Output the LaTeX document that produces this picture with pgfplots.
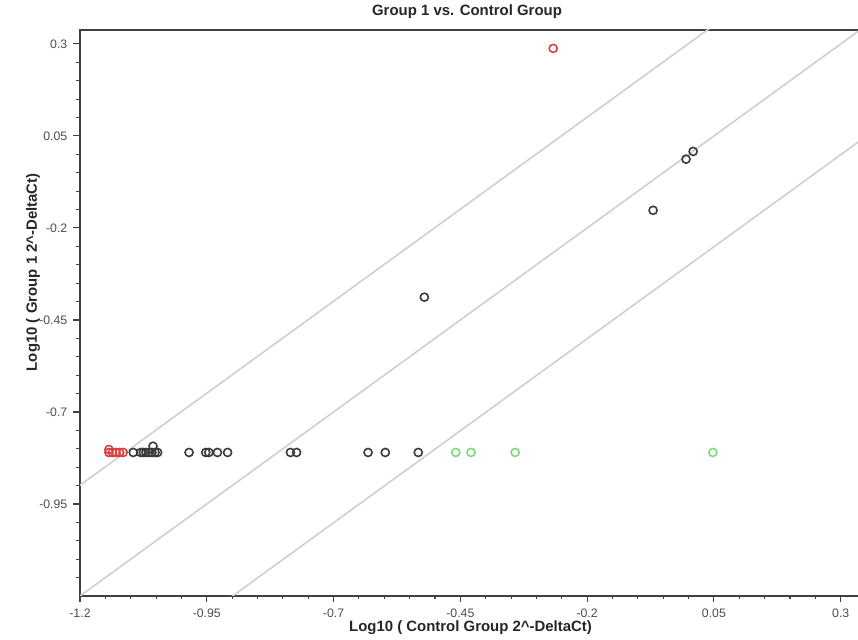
\documentclass[border=0pt]{standalone}
\usepackage{fontspec}
\setmainfont{Liberation Sans}
\usepackage{pgfplots}
\pgfplotsset{compat=1.18}
\definecolor{ptblack}{HTML}{3A3A3A}
\definecolor{ptred}{HTML}{D94040}
\definecolor{ptgreen}{HTML}{7ED87E}
\definecolor{refline}{HTML}{CFCFCF}
\definecolor{axline}{HTML}{404040}
\begin{document}
\begin{tikzpicture}
\begin{axis}[
  scale only axis, width=15.62cm, height=11.32cm,
  xmin=-1.2, xmax=0.34, ymin=-1.2, ymax=0.338,
  xtick={-1.2,-0.95,-0.7,-0.45,-0.2,0.05,0.3},
  xticklabels={-1.2,-0.95,-0.7,-0.45,-0.2,0.05,0.3},
  ytick={-0.95,-0.7,-0.45,-0.2,0.05,0.3},
  yticklabels={-0.95,-0.7,-0.45,-0.2,0.05,0.3},
  minor xtick={-1.15,-1.1,-1.05,-1.0,-0.9,-0.85,-0.8,-0.75,-0.65,-0.6,-0.55,-0.5,-0.4,-0.35,-0.3,-0.25,-0.15,-0.1,-0.05,0,0.1,0.15,0.2,0.25},
  minor ytick={-1.15,-1.1,-1.05,-1.0,-0.9,-0.85,-0.8,-0.75,-0.65,-0.6,-0.55,-0.5,-0.4,-0.35,-0.3,-0.25,-0.15,-0.1,-0.05,0,0.1,0.15,0.2,0.25},
  xtick pos=bottom, ytick pos=left,
  tick align=outside,
  major tick length=0.13cm, minor tick length=0.07cm,
  tick style={axline, line width=0.6pt},
  axis line style={axline, line width=0.85pt},
  xticklabel style={font=\fontsize{7}{8}\selectfont, text=black!70},
  yticklabel style={font=\fontsize{7}{8}\selectfont, text=black!70},
  xlabel={Log10 ( Control Group 2\textasciicircum-DeltaCt)},
  xlabel style={at={(axis description cs:0.5,-0.0565)}, anchor=center, font=\fontsize{8.5}{10}\selectfont\bfseries, text=black!85},
  ylabel={Log10 ( Group 1 2\textasciicircum-DeltaCt)},
  ylabel style={at={(axis description cs:-0.06,0.572)}, anchor=center, font=\fontsize{8.5}{10}\selectfont\bfseries, text=black!85},
  every axis plot/.append style={line width=0.9pt},
]
% reference lines: y = x, y = x +/- log10(2)
\addplot[refline, line width=0.9pt, no marks] coordinates {(-1.6,-1.6)(0.6,0.6)};
\addplot[refline, line width=0.9pt, no marks] coordinates {(-1.6,-1.299)(0.6,0.901)};
\addplot[refline, line width=0.9pt, no marks] coordinates {(-1.6,-1.901)(0.6,0.299)};
% black: no change
\addplot[only marks, mark=o, mark size=2.3pt, ptblack] coordinates {
  (0.009,0.008)(-0.005,-0.013)(-0.070,-0.152)(-0.521,-0.388)
  (-1.095,-0.81)(-1.080,-0.81)(-1.075,-0.81)(-1.070,-0.81)(-1.064,-0.81)
  (-1.058,-0.81)(-1.052,-0.81)(-1.047,-0.81)(-1.056,-0.793)
  (-0.985,-0.81)(-0.952,-0.81)(-0.946,-0.81)(-0.929,-0.81)(-0.909,-0.81)
  (-0.785,-0.81)(-0.773,-0.81)
  (-0.632,-0.81)(-0.598,-0.81)(-0.533,-0.81)};
% red: up
\addplot[only marks, mark=o, mark size=2.3pt, ptred] coordinates {
  (-0.267,0.288)
  (-1.143,-0.81)(-1.136,-0.81)(-1.129,-0.81)(-1.122,-0.81)(-1.115,-0.81)(-1.143,-0.802)};
% green: down
\addplot[only marks, mark=o, mark size=2.3pt, ptgreen] coordinates {
  (-0.459,-0.81)(-0.429,-0.81)(-0.342,-0.81)(0.048,-0.81)};
\end{axis}
\node[font=\fontsize{8.5}{10}\selectfont\bfseries, text=black!85] at ([shift={(-0.07cm,0.36cm)}]current axis.north) {Group 1 vs. Control Group};
\pgfresetboundingbox
\path[use as bounding box] ([shift={(-1.6cm,-0.88cm)}]current axis.south west) rectangle ([shift={(-0.06cm,0.6cm)}]current axis.north east);
\end{tikzpicture}
\end{document}
